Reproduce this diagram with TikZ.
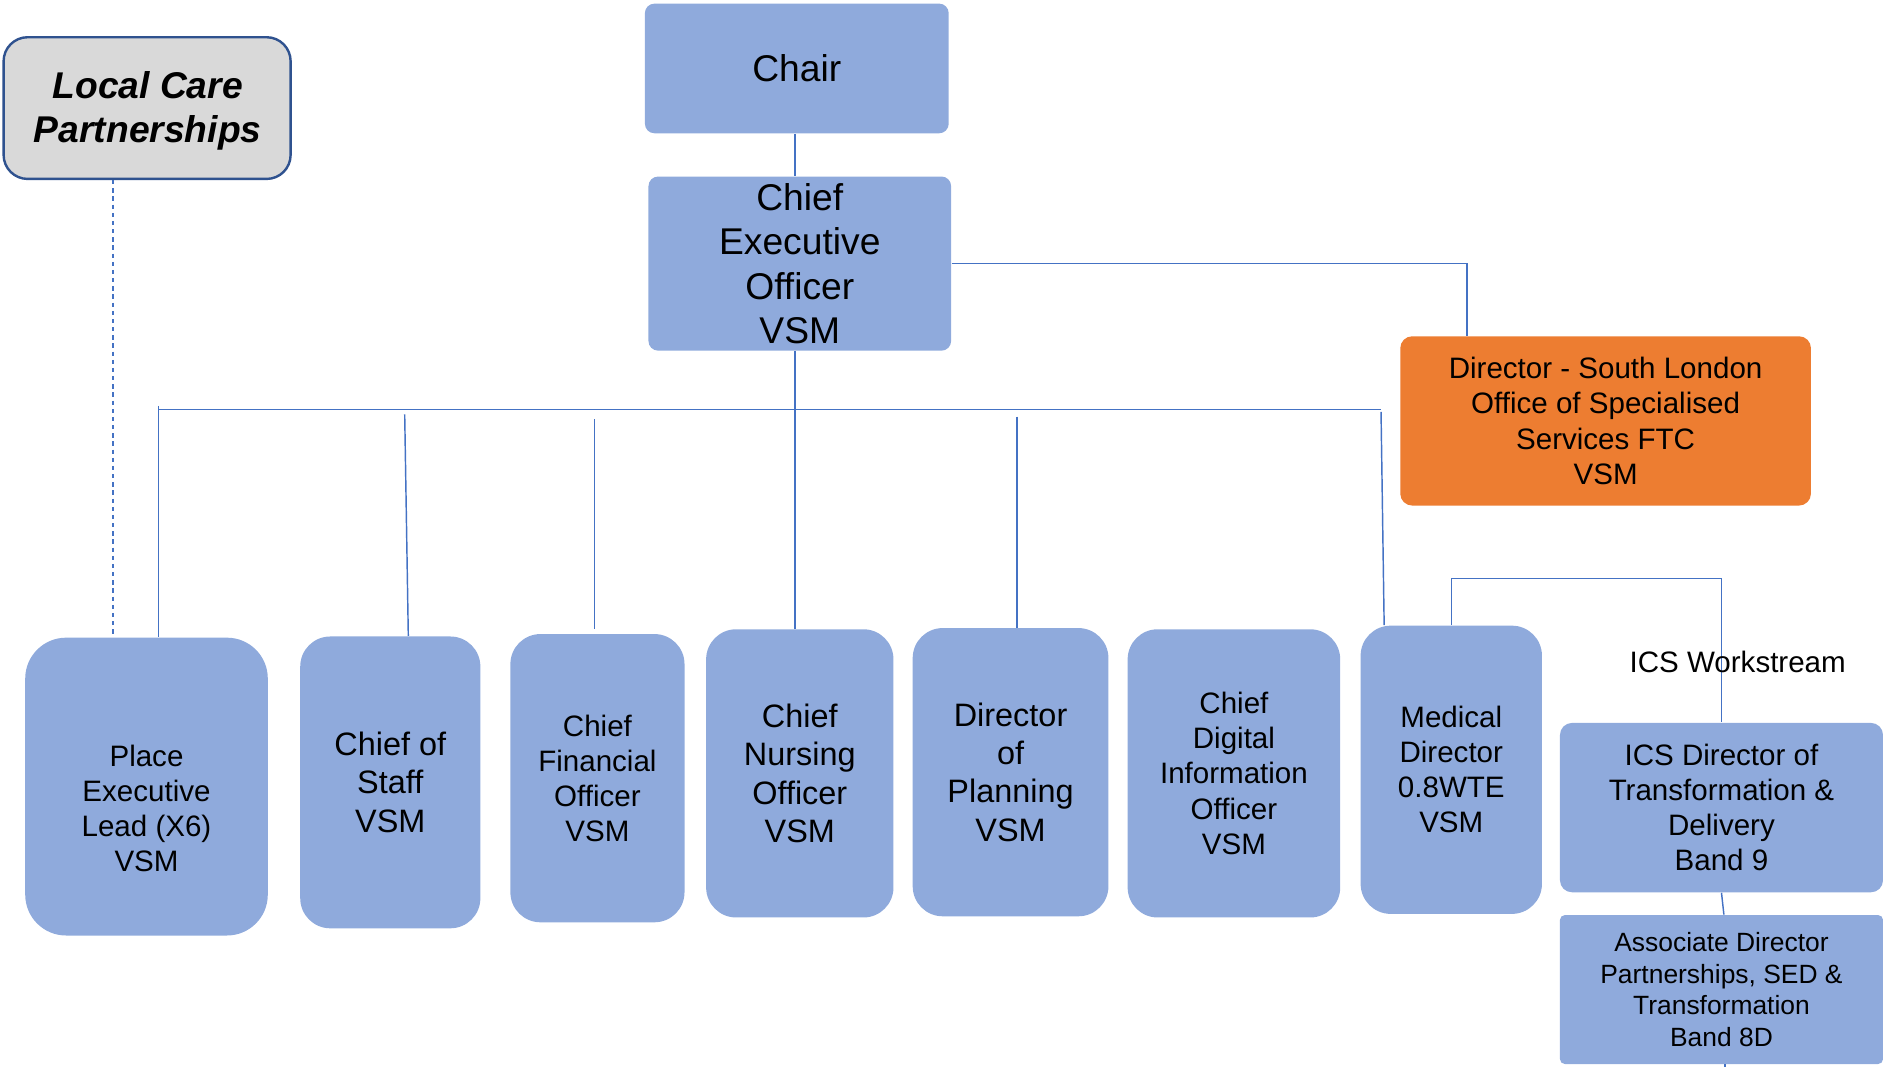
\documentclass[tikz,border=0pt]{standalone}
\usepackage{fontspec}
\setmainfont{Liberation Sans}
\usetikzlibrary{calc}
\definecolor{boxblue}{HTML}{8FAADC}
\definecolor{lineblue}{HTML}{4472C4}
\definecolor{orng}{HTML}{ED7D31}
\definecolor{lgray}{HTML}{D9D9D9}
\definecolor{dkblue}{HTML}{2F528F}
\tikzset{
  bx/.style={fill=boxblue, draw=none, inner sep=0pt, align=center, text=black},
  obx/.style={fill=orng, draw=none, inner sep=0pt, align=center, text=black},
  conn/.style={draw=lineblue, line width=0.6pt},
  fA/.style={font=\fontsize{15.5pt}{18.5pt}\selectfont},
  fB/.style={font=\fontsize{13.5pt}{15.9pt}\selectfont},
  fC/.style={font=\fontsize{12.3pt}{14.6pt}\selectfont},
  fD/.style={font=\fontsize{11pt}{13.2pt}\selectfont},
}
\begin{document}
\begin{tikzpicture}[x=0.5pt, y=-0.5pt]
\useasboundingbox (0,0) rectangle (1568,888);

% top
\node[fill=lgray, draw=dkblue, line width=1pt, rounded corners=10pt, inner sep=0pt,
      minimum width=119.5pt, minimum height=59pt] (lcp) at (122.5,90) {};
\node[inner sep=0pt, align=center, font=\fontsize{15.5pt}{18.5pt}\selectfont\bfseries\itshape]
      (lcpt) at (123,92.5) {Local Care\\Partnerships};
\node[bx, fA, rounded corners=4pt, minimum width=126.5pt, minimum height=54pt] (chair) at (663.5,57) {Chair};
\node[bx, fA, rounded corners=4pt, minimum width=126pt, minimum height=72.5pt] (ceo) at (666,219.5) {Chief\\Executive\\Officer\\VSM};
\node[obx, fC, rounded corners=5pt, minimum width=171pt, minimum height=70.5pt] (dsl) at (1337,350.5) {Director - South London\\Office of Specialised\\Services FTC\\VSM};

% bottom row
\node[bx, rounded corners=17pt, minimum width=101pt, minimum height=124pt] (pel) at (122,655) {};
\node[fC, inner sep=0pt, align=center] (pelt) at (122,673) {Place\\Executive\\Lead (X6)\\VSM};
\node[bx, fB, rounded corners=12.5pt, minimum width=75pt, minimum height=121.5pt] (cos) at (325,651.5) {Chief of\\Staff\\VSM};
\node[bx, fC, rounded corners=12.5pt, minimum width=72.5pt, minimum height=120pt] (cfo) at (497.5,648) {Chief\\Financial\\Officer\\VSM};
\node[bx, fB, rounded corners=12.5pt, minimum width=78pt, minimum height=120pt] (cno) at (666,644) {Chief\\Nursing\\Officer\\VSM};
\node[bx, fB, rounded corners=12.5pt, minimum width=81.5pt, minimum height=120pt] (dop) at (841.5,643) {Director\\of\\Planning\\VSM};
\node[bx, fC, rounded corners=12.5pt, minimum width=88.5pt, minimum height=120pt] (cdio) at (1027.5,644) {Chief\\Digital\\Information\\Officer\\VSM};
\node[bx, fC, rounded corners=12.5pt, minimum width=75.5pt, minimum height=120pt] (md) at (1208.5,641) {Medical\\Director\\0.8WTE\\VSM};
\node[bx, fC, rounded corners=5pt, minimum width=134.5pt, minimum height=70.5pt] (ics) at (1433.5,672.5) {ICS Director of\\Transformation \&\\Delivery\\Band 9};
\node[bx, fD, rounded corners=2pt, minimum width=134.5pt, minimum height=62pt] (assoc) at (1433.5,824) {Associate Director\\Partnerships, SED \&\\Transformation\\Band 8D};

% connectors
\coordinate (sp) at (662,0);
\draw[conn] (chair.south -| sp) -- (ceo.north -| sp);
\draw[conn] (ceo.south -| sp) -- (cno.north -| sp);
\draw[conn] (ceo.east) -| ($(dsl.north west)+(56,0)$);

\coordinate (busL) at (132,341);
\coordinate (busR) at (1150,341);
\draw[conn] (busL) -- (busR);
\draw[conn] ($(busL)+(0,-3)$) -- (busL |- pel.north);
\coordinate (tcos) at (337,345);
\draw[conn] (tcos) -- ($(cos.north)+(15,0)$);
\coordinate (tcfo) at (495,349);
\draw[conn] (tcfo) -- ($(tcfo |- cfo.north)+(0,-4)$);
\coordinate (tdop) at (847,347);
\draw[conn] (tdop) -- (tdop |- dop.north);
\coordinate (tmd) at (1150,343);
\draw[conn] (tmd) -- ($(md.north west)+(20,0)$);

\draw[conn] (md.north) -- ++(0,-39) -| (ics.north);
\draw[conn] (ics.south) -- ($(assoc.north)+(2,0)$);
\draw[conn] ($(assoc.south)+(3,0)$) -- ++(0,4);

\coordinate (dtop) at (94,150);
\draw[draw=lineblue, line width=0.6pt, dash pattern=on 1.8pt off 1.6pt] (dtop) -- (dtop |- pel.north);

\node[fC, inner sep=0pt] (wsl) at (1447,551) {ICS Workstream};
\end{tikzpicture}
\end{document}
